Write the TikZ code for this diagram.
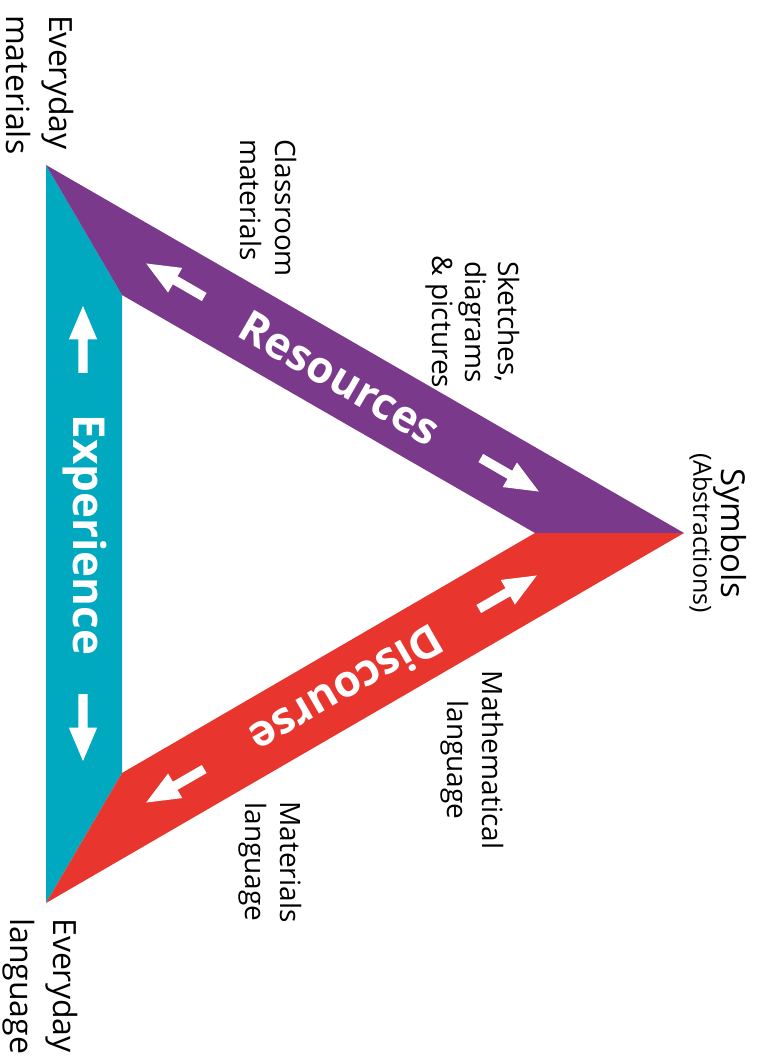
\documentclass[tikz,border=0pt]{standalone}
\usepackage{fontspec}
\setmainfont{Open Sans}
\usetikzlibrary{shapes.arrows}

\definecolor{expteal}{RGB}{0,168,192}
\definecolor{respurple}{RGB}{122,57,138}
\definecolor{disred}{RGB}{232,53,46}

\tikzset{
  cornertext/.style={font=\fontsize{32}{43}\selectfont, inner sep=0pt, rotate=-90},
  sidetext/.style={font=\fontsize{28}{35}\selectfont, inner sep=0pt, rotate=-90},
  bandtext/.style={font=\bfseries\fontsize{44}{50}\selectfont, text=white, inner sep=0pt},
  blockarrow/.style={single arrow, fill=white, inner xsep=0pt, inner ysep=4.5pt,
    minimum height=67pt, single arrow head extend=9.5pt,
    single arrow tip angle=46, single arrow head indent=0pt}
}

\begin{document}
\begin{tikzpicture}[x=1pt, y=-1pt]
    \useasboundingbox (0,0) rectangle (766,1061);

    % Corners of the triangle (outer and inner)
    \coordinate (M) at (46,165);
    \coordinate (L) at (46,903);
    \coordinate (S) at (684,533);
    \coordinate (Mi) at (122,295);
    \coordinate (Li) at (122,773);
    \coordinate (Si) at (535,533);

    % Bands
    \fill[expteal] (M) -- (Mi) -- (Li) -- (L) -- cycle;
    \fill[respurple] (M) -- (S) -- (Si) -- (Mi) -- cycle;
    \fill[disred] (L) -- (Li) -- (Si) -- (S) -- cycle;

    % Band names
    \node[bandtext, rotate=-90] (experience) at (85,535) {Experience};
    \node[bandtext, rotate=-30] (resources) at (340,378) {Resources};
    \node[bandtext, rotate=210] (discourse) at (347,690) {Discourse};

    % White arrows along the bands
    \node[blockarrow, rotate=90] (expUp) at (83,345) {};
    \node[blockarrow, rotate=-90] (expDown) at (83,722) {};
    \node[blockarrow, rotate=150] (resBack) at (180,283) {};
    \node[blockarrow, rotate=-30] (resOn) at (505,472) {};
    \node[blockarrow, rotate=30] (disOn) at (503,595) {};
    \node[blockarrow, rotate=210] (disBack) at (180,783) {};

    % Corner labels
    \node[cornertext, align=left, anchor=west] (materials) at (40,15) {Everyday\\materials};
    \node[cornertext, align=left, anchor=west] (language) at (40,918) {Everyday\\language};
    \node[inner sep=0pt, rotate=-90, align=center] (symbols) at (718,533)
        {\fontsize{33}{35}\selectfont Symbols\\\fontsize{25}{35}\selectfont (Abstractions)};

    % Labels beside the bands
    \node[sidetext, align=left, anchor=west] (classroom) at (268,139) {Classroom\\materials};
    \node[sidetext, align=center, font=\fontsize{28}{33}\selectfont] (sketches) at (473,322)
        {Sketches,\\diagrams\\\& pictures};
    \node[sidetext, align=center] (mathlang) at (472,760) {Mathematical\\language};
    \node[sidetext, align=center] (matlang) at (270,862) {Materials\\language};
\end{tikzpicture}
\end{document}
